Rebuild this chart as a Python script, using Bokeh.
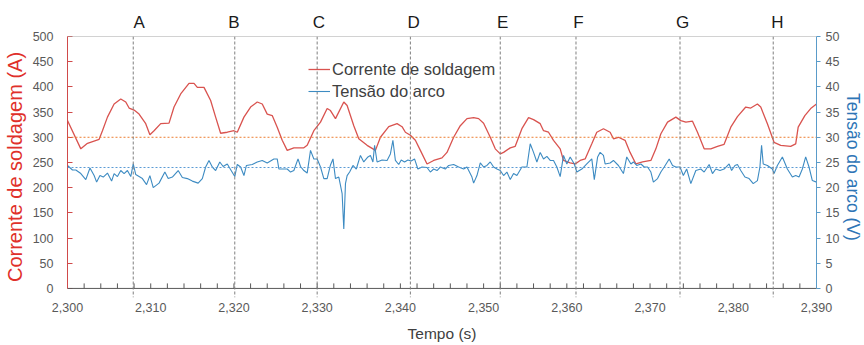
from bokeh.plotting import figure
from bokeh.models import (Range1d, LinearAxis, FixedTicker, NumeralTickFormatter,
                          CustomJSTickFormatter, Legend, LegendItem, Span)
from bokeh.embed import file_html
from bokeh.resources import INLINE

# ---- data ----
time_i = [2300.0, 2301.6, 2302.4, 2303.8, 2304.2, 2304.8, 2305.6, 2306.4, 2307.0, 2307.4,
          2308.0, 2308.6, 2309.4, 2309.9, 2310.4, 2311.2, 2312.2, 2312.8, 2313.6, 2314.6,
          2315.2, 2315.6, 2316.4, 2317.2, 2317.8, 2318.4, 2319.2, 2320.0, 2320.4, 2321.2,
          2322.0, 2322.8, 2323.4, 2324.0, 2324.6, 2325.2, 2325.8, 2326.4, 2327.2, 2328.4,
          2328.8, 2329.6, 2330.4, 2331.2, 2331.6, 2332.2, 2333.2, 2333.6, 2334.4, 2335.0,
          2336.0, 2337.0, 2337.6, 2338.6, 2339.6, 2340.2, 2340.6, 2341.2, 2341.8, 2342.4,
          2343.2, 2344.0, 2345.0, 2345.6, 2346.4, 2347.2, 2348.0, 2348.8, 2349.4, 2350.0,
          2350.8, 2351.4, 2352.0, 2352.4, 2353.2, 2353.8, 2354.6, 2355.4, 2356.0, 2356.8,
          2357.2, 2357.8, 2358.4, 2359.2, 2359.6, 2360.4, 2361.0, 2361.6, 2362.2, 2363.0,
          2363.6, 2364.4, 2365.2, 2365.6, 2366.2, 2367.0, 2367.6, 2368.3, 2369.1, 2370.1,
          2370.7, 2371.3, 2372.1, 2373.1, 2373.7, 2374.3, 2375.1, 2375.7, 2376.5, 2377.3,
          2378.1, 2378.9, 2379.7, 2380.5, 2381.5, 2382.1, 2382.9, 2383.3, 2384.1, 2384.9,
          2385.7, 2386.9, 2387.5, 2387.8, 2388.6, 2389.3, 2390.0]
current = [333, 277, 288, 296, 313, 340, 366, 376, 370, 358,
           354, 346, 327, 305, 313, 327, 328, 360, 386, 407,
           407, 399, 399, 373, 340, 308, 310, 313, 310, 340,
           360, 370, 366, 346, 343, 320, 294, 274, 279, 279,
           284, 313, 330, 357, 353, 337, 370, 363, 323, 297,
           284, 274, 300, 321, 327, 321, 310, 304, 294, 274,
           247, 254, 259, 270, 300, 323, 337, 339, 337, 328,
           300, 277, 267, 270, 279, 282, 317, 339, 335, 327,
           313, 310, 294, 277, 254, 249, 247, 254, 257, 287,
           310, 317, 310, 297, 300, 294, 270, 247, 251, 254,
           277, 307, 330, 340, 333, 330, 332, 310, 277, 277,
           282, 286, 320, 341, 360, 358, 366, 360, 327, 290,
           284, 282, 287, 320, 343, 357, 366]

time_v = [2300.0, 2300.6, 2301.0, 2301.6, 2302.2, 2302.7, 2303.2, 2303.5, 2303.9, 2304.3,
          2304.8, 2305.3, 2305.6, 2306.0, 2306.4, 2306.8, 2307.2, 2307.6, 2307.9, 2308.2,
          2309.0, 2309.5, 2309.9, 2310.3, 2311.0, 2311.7, 2312.1, 2312.6, 2313.3, 2313.8,
          2314.4, 2315.0, 2315.7, 2316.2, 2316.6, 2317.0, 2317.4, 2317.8, 2318.3, 2318.7,
          2319.2, 2319.7, 2320.1, 2320.4, 2320.8, 2321.2, 2321.5, 2322.2, 2322.8, 2323.4,
          2324.0, 2324.8, 2325.2, 2325.4, 2326.4, 2326.8, 2327.2, 2327.7, 2328.0, 2328.4,
          2328.8, 2329.2, 2329.6, 2330.0, 2330.4, 2330.8, 2331.2, 2331.6, 2331.9, 2332.2,
          2332.6, 2333.0, 2333.2, 2333.4, 2333.6, 2333.9, 2334.3, 2334.7, 2335.2, 2335.6,
          2336.1, 2336.4, 2336.7, 2336.9, 2337.2, 2337.8, 2338.4, 2338.8, 2339.1, 2339.4,
          2339.8, 2340.1, 2340.5, 2340.9, 2341.3, 2341.7, 2342.1, 2342.6, 2343.2, 2343.6,
          2344.0, 2344.4, 2344.8, 2345.4, 2345.8, 2346.4, 2347.0, 2347.6, 2348.0, 2348.3,
          2348.6, 2348.8, 2349.2, 2349.6, 2350.0, 2350.4, 2350.8, 2351.2, 2351.6, 2352.0,
          2352.4, 2352.8, 2353.2, 2353.6, 2354.0, 2354.6, 2355.2, 2355.6, 2356.0, 2356.4,
          2356.8, 2357.2, 2357.6, 2358.0, 2358.4, 2358.8, 2359.2, 2359.6, 2360.0, 2360.4,
          2360.9, 2361.2, 2361.8, 2362.4, 2363.0, 2363.3, 2363.7, 2364.0, 2364.4, 2364.6,
          2365.2, 2365.6, 2366.2, 2366.8, 2367.2, 2367.7, 2368.0, 2368.4, 2368.9, 2369.3,
          2369.7, 2370.1, 2370.4, 2370.9, 2371.3, 2371.7, 2372.3, 2372.7, 2373.1, 2373.6,
          2374.0, 2374.4, 2374.9, 2375.5, 2376.1, 2376.5, 2377.1, 2377.5, 2377.9, 2378.4,
          2378.9, 2379.5, 2379.8, 2380.2, 2380.5, 2380.9, 2381.4, 2381.9, 2382.4, 2382.9,
          2383.2, 2383.4, 2383.6, 2384.1, 2384.7, 2384.9, 2385.3, 2385.9, 2386.5, 2387.1,
          2387.5, 2387.9, 2388.3, 2388.7, 2389.1, 2389.5, 2390.0]
voltage = [24.4, 23.5, 23.5, 22.8, 21.6, 23.9, 22.4, 21.1, 22.4, 22.1,
           22.9, 21.3, 22.8, 22.2, 23.4, 22.8, 23.4, 22.2, 24.7, 22.6,
           21.8, 20.6, 22.4, 20.0, 20.9, 23.1, 21.8, 22.1, 23.4, 22.0,
           21.8, 21.3, 20.9, 21.8, 24.1, 25.4, 24.1, 23.4, 25.1, 24.2,
           24.7, 23.3, 22.2, 24.6, 24.1, 22.4, 24.4, 24.6, 25.1, 25.4,
           24.9, 25.7, 25.7, 23.7, 23.7, 23.1, 23.4, 25.7, 24.2, 23.4,
           22.9, 27.4, 25.7, 25.7, 24.1, 21.8, 21.8, 24.5, 25.7, 21.8,
           22.1, 18.8, 11.8, 20.8, 22.4, 23.1, 24.4, 23.7, 26.4, 25.1,
           26.1, 26.4, 25.1, 28.4, 25.1, 25.5, 25.4, 26.7, 29.4, 25.4,
           24.6, 25.5, 25.1, 25.5, 25.3, 25.7, 23.7, 24.1, 24.0, 23.1,
           23.7, 23.4, 24.1, 23.7, 24.4, 24.6, 24.1, 23.7, 24.1, 23.1,
           22.1, 20.9, 22.4, 24.9, 24.1, 24.4, 25.1, 24.1, 23.7, 23.4,
           22.4, 23.1, 21.6, 22.8, 22.4, 24.1, 24.1, 28.7, 27.0, 25.1,
           27.0, 25.7, 26.2, 25.4, 25.4, 24.1, 22.2, 26.4, 24.7, 26.1,
           24.7, 23.1, 23.7, 24.7, 25.7, 21.6, 26.1, 27.0, 26.4, 24.7,
           24.9, 25.4, 24.4, 22.8, 26.1, 24.7, 25.1, 24.4, 24.7, 24.1,
           24.1, 23.1, 21.1, 21.8, 23.1, 24.1, 25.7, 24.4, 24.1, 24.1,
           22.4, 23.7, 20.8, 23.4, 23.7, 23.1, 24.6, 22.8, 23.7, 23.4,
           23.7, 24.7, 23.4, 24.4, 24.6, 23.4, 22.1, 21.8, 20.8, 21.4,
           24.1, 28.4, 24.7, 24.4, 23.7, 22.8, 24.4, 26.1, 23.7, 22.1,
           22.4, 22.1, 23.7, 26.1, 24.1, 21.4, 21.1]

mark_names = ["A", "B", "C", "D", "E", "F", "G", "H"]
mark_times = [2307.9, 2320.1, 2330.0, 2341.2, 2352.0, 2361.1, 2373.6, 2384.8]
letter_times = [2308.6, 2320.0, 2330.2, 2341.6, 2352.3, 2361.4, 2373.9, 2385.3]
mean_current = 300
mean_voltage = 24

x_ticks = list(range(2300, 2391, 10))
x_minor = list(range(2300, 2391, 2))
i_ticks = list(range(0, 501, 50))
v_ticks = list(range(0, 51, 5))

# ---- styles ----
RED = "#d9534f"
RED_AX = "#d04a4a"
RED_TXT = "#e0302a"
BLUE = "#3d8bc2"
BLUE_AX = "#5a9bc9"
BLUE_TXT = "#2e75b6"
GREY = "#595959"
FONT = "Liberation Sans"

p = figure(frame_width=749, frame_height=261,
           min_border_left=67, min_border_right=48, min_border_top=36, min_border_bottom=48,
           x_range=Range1d(2300, 2390), y_range=Range1d(-18, 500),
           output_backend="svg", toolbar_location=None)
p.extra_y_ranges = {"v": Range1d(-1.8, 50)}
p.xgrid.visible = False
p.ygrid.visible = False
p.outline_line_color = None
p.background_fill_color = "white"
p.border_fill_color = "white"

# bottom axis: labels only (axis line and ticks drawn at y = 0 below)
xa = p.xaxis[0]
xa.ticker = FixedTicker(ticks=x_ticks, minor_ticks=[])
xa.formatter = NumeralTickFormatter(format="0,0")
xa.axis_line_color = None
xa.major_tick_line_color = None
xa.minor_tick_line_color = None
xa.major_tick_in = 0
xa.major_tick_out = 0
xa.major_label_standoff = 5
xa.major_label_text_color = GREY
xa.major_label_text_font = FONT
xa.major_label_text_font_size = "12.5px"
xa.axis_label = "Tempo (s)"
xa.axis_label_text_font = FONT
xa.axis_label_text_font_size = "15.5px"
xa.axis_label_text_font_style = "normal"
xa.axis_label_text_color = "#404040"
xa.axis_label_standoff = 10

# top axis carrying the A..H markers
ta = LinearAxis(ticker=FixedTicker(ticks=letter_times, minor_ticks=[]),
                formatter=CustomJSTickFormatter(
                    args=dict(names=mark_names, times=letter_times),
                    code="const i = times.indexOf(tick); return i >= 0 ? names[i] : '';"))
ta.axis_line_color = None
ta.major_tick_line_color = None
ta.minor_tick_line_color = None
ta.major_tick_in = 0
ta.major_tick_out = 0
ta.major_label_standoff = 5
ta.major_label_text_color = "#1a1a1a"
ta.major_label_text_font = FONT
ta.major_label_text_font_size = "17px"
p.add_layout(ta, "above")

# left axis (current)
ya = p.yaxis[0]
ya.bounds = (0, 500)
ya.ticker = FixedTicker(ticks=i_ticks, minor_ticks=[])
ya.axis_line_color = RED_AX
ya.major_tick_line_color = RED_AX
ya.major_tick_in = 5
ya.major_tick_out = 0
ya.major_label_standoff = 14
ya.major_label_text_color = GREY
ya.major_label_text_font = FONT
ya.major_label_text_font_size = "12.5px"
ya.axis_label = "Corrente de soldagem (A)"
ya.axis_label_text_font = FONT
ya.axis_label_text_font_size = "20px"
ya.axis_label_text_font_style = "normal"
ya.axis_label_text_color = RED_TXT
ya.axis_label_standoff = 4

# right axis (voltage)
ra = LinearAxis(y_range_name="v", bounds=(0, 50),
                ticker=FixedTicker(ticks=v_ticks, minor_ticks=[]))
ra.axis_line_color = BLUE_AX
ra.major_tick_line_color = BLUE_AX
ra.major_tick_in = 0
ra.major_tick_out = 4
ra.major_label_standoff = 5
ra.major_label_text_color = GREY
ra.major_label_text_font = FONT
ra.major_label_text_font_size = "12.5px"
ra.axis_label = "Tensão do arco (V)"
ra.axis_label_text_font = FONT
ra.axis_label_text_font_size = "17.5px"
ra.axis_label_text_font_style = "normal"
ra.axis_label_text_color = BLUE_TXT
ra.axis_label_standoff = 1
p.add_layout(ra, "right")

# frame top border, time axis line at y = 0 and reference lines
p.add_layout(Span(location=500, dimension="width", line_color="#a6a6a6", line_width=1))
p.add_layout(Span(location=0, dimension="width", line_color=GREY, line_width=1))
p.add_layout(Span(location=mean_current, dimension="width", line_color="#ed7d31",
                  line_dash="2 2", line_width=1))
p.add_layout(Span(location=mean_voltage, dimension="width", y_range_name="v",
                  line_color="#5b9bd5", line_dash="2 2", line_width=1))
for t in mark_times:
    p.add_layout(Span(location=t, dimension="height", line_color="#7f7f7f",
                      line_dash="3 2", line_width=1))

# tick marks of the time axis (pointing up from y = 0)
p.segment(x0=x_minor, y0=[0] * len(x_minor), x1=x_minor, y1=[10] * len(x_minor),
          line_color=GREY, line_width=1)

r_i = p.line(time_i, current, line_color=RED, line_width=1.3)
r_v = p.line(time_v, voltage, y_range_name="v", line_color=BLUE, line_width=1.1)

legend = Legend(items=[LegendItem(label="Corrente de soldagem", renderers=[r_i]),
                       LegendItem(label="Tensão do arco", renderers=[r_v])],
                location=(241, 196), glyph_width=22, glyph_height=20, label_standoff=2,
                spacing=2, padding=0, margin=0, border_line_color=None,
                background_fill_alpha=0, label_text_font=FONT,
                label_text_font_size="16.5px", label_text_color="#404040")
p.add_layout(legend)

open("out.html", "w").write(file_html(p, INLINE))
